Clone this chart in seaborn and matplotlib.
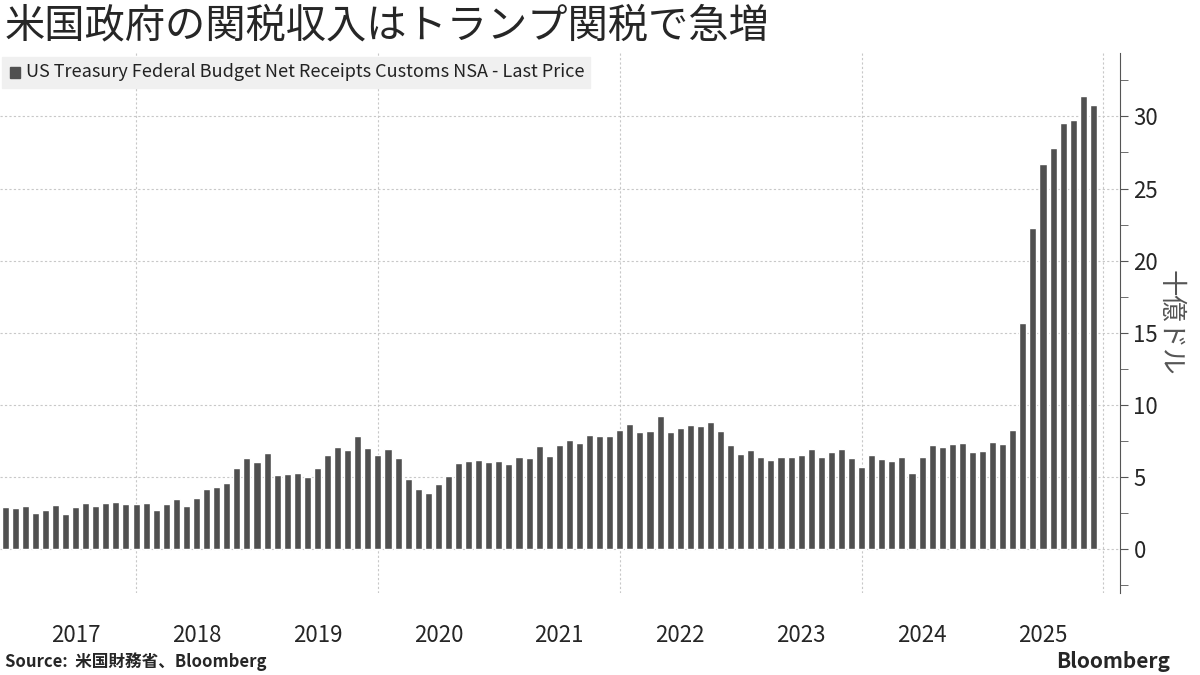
import numpy as np
import pandas as pd
import seaborn as sns
import matplotlib.pyplot as plt

# monthly customs receipts, Nov 2016 .. Nov 2025 (billions USD)
receipts = [
    2.91, 2.84,
    2.98, 2.49, 2.70, 3.05, 2.42, 2.91, 3.19, 2.98, 3.19, 3.26, 3.12, 3.12,
    3.19, 2.70, 3.12, 3.46, 2.98, 3.53, 4.16, 4.30, 4.57, 5.61, 6.30, 6.03,
    6.65, 5.13, 5.20, 5.27, 5.01, 5.61, 6.51, 7.07, 6.86, 7.83, 7.00, 6.51,
    6.93, 6.30, 4.85, 4.16, 3.88, 4.50, 5.06, 5.96, 6.10, 6.17, 6.03, 6.10,
    5.89, 6.37, 6.30, 7.14, 6.44, 7.21, 7.55, 7.34, 7.90, 7.83, 7.83, 8.24,
    8.66, 8.11, 8.18, 9.21, 8.11, 8.38, 8.59, 8.52, 8.80, 8.18, 7.21, 6.58,
    6.86, 6.37, 6.17, 6.37, 6.37, 6.49, 6.91, 6.37, 6.71, 6.91, 6.29, 5.72,
    6.49, 6.22, 6.07, 6.37, 5.26, 6.37, 7.18, 7.06, 7.25, 7.33, 6.71, 6.83,
    7.40, 7.25, 8.22, 15.69, 22.28, 26.67, 27.78, 29.56, 29.78, 31.43, 30.82,
]
years = ["2017", "2018", "2019", "2020", "2021", "2022", "2023", "2024", "2025"]
y_ticks = [0, 5, 10, 15, 20, 25, 30]

# bar i sits at the end of its month; position 0 = start of Jan 2017
month_pos = np.arange(len(receipts)) - 1
df = pd.DataFrame({"pos": month_pos, "value": receipts})

sns.set_style("white")
plt.rcParams["font.family"] = ["Noto Sans CJK JP", "DejaVu Sans"]

fig = plt.figure(figsize=(12, 6.75), dpi=100)
ax = fig.add_axes([0.0, 0.1215, 0.933, 0.80])

sns.barplot(data=df, x="pos", y="value", native_scale=True, color="#505050",
            width=0.7, saturation=1, ax=ax)

ax.set_xlim(-1.5, 109.6)
ax.set_ylim(-3.05, 34.4)

for t in y_ticks:
    ax.axhline(t, color="#c8c8c8", lw=0.8, ls=(0, (2, 2)), zorder=0)
for k in range(12, 110, 24):
    ax.axvline(k, color="#c8c8c8", lw=0.8, ls=(0, (2, 2)), zorder=0)

for s in ["top", "left", "bottom"]:
    ax.spines[s].set_visible(False)
ax.spines["right"].set_color("#555555")
ax.yaxis.tick_right()
ax.set_yticks(y_ticks)
ax.set_yticks(np.arange(-2.5, 34, 2.5), minor=True)
ax.tick_params(axis="y", which="both", direction="out", length=6, color="#555555",
               labelsize=16, pad=4)
ax.tick_params(axis="y", which="minor", length=6)
ax.set_xticks([6 + 12 * k for k in range(len(years))])
ax.set_xticklabels(years, fontsize=16)
ax.tick_params(axis="x", length=0, pad=22)
ax.set_xlabel("")
ax.set_ylabel("十億ドル", fontsize=19, rotation=270, labelpad=18, color="#555555")
ax.yaxis.set_label_position("right")

fig.text(0.004, 0.962, "米国政府の関税収入はトランプ関税で急増", fontsize=29,
         va="center")
fig.patches.append(plt.Rectangle((0.002, 0.870), 0.49, 0.046, transform=fig.transFigure,
                                 color="#f0f0f0", zorder=0))
fig.patches.append(plt.Rectangle((0.008, 0.885), 0.0085, 0.016, transform=fig.transFigure,
                                 color="#505050", zorder=1))
fig.text(0.022, 0.893, "US Treasury Federal Budget Net Receipts Customs NSA - Last Price",
         fontsize=13, va="center", color="#222222")
fig.text(0.004, 0.02, "Source:  米国財務省、Bloomberg", fontsize=12, fontweight="bold",
         va="center")
fig.text(0.975, 0.02, "Bloomberg", fontsize=15, fontweight="bold", va="center", ha="right")

fig.savefig("out.png", dpi=100)
